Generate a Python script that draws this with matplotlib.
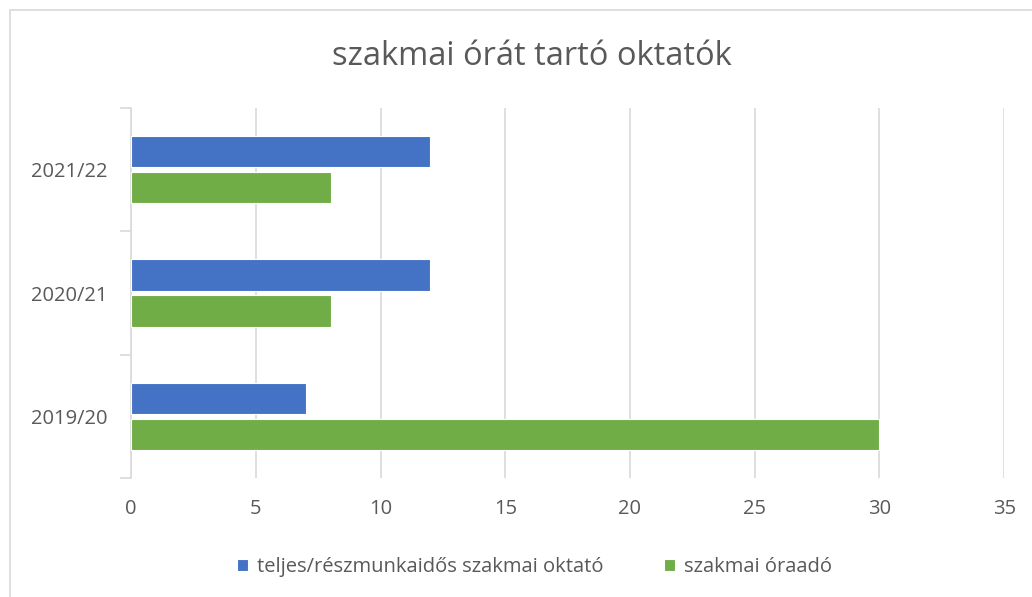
import numpy as np
import matplotlib.pyplot as plt
from matplotlib.patches import Rectangle

# data
years = ['2019/20', '2020/21', '2021/22']
oktato = [7, 12, 12]
oraado = [30, 8, 8]
xticks = [0, 5, 10, 15, 20, 25, 30, 35]

blue = '#4472C4'
green = '#70AD47'
txt = '#595959'
grid = '#D9D9D9'

plt.rcParams['font.family'] = ['Open Sans', 'DejaVu Sans']

fig = plt.figure(figsize=(10.32, 5.97), dpi=100)
ax = fig.add_axes([0.127, 0.1993, 0.846, 0.6198])

# chart border
fig.patches.append(Rectangle((10 / 1032, -0.1), 1.2, (597 - 10) / 597 + 0.1,
                             transform=fig.transFigure, fill=False,
                             edgecolor='#D9D9D9', linewidth=1.2))

y = np.arange(len(years))
h = 0.255
off = 0.146
ax.barh(y + off, oktato, height=h, color=blue, edgecolor='white', linewidth=0.8,
        label='teljes/részmunkaidős szakmai oktató', zorder=3)
ax.barh(y - off, oraado, height=h, color=green, edgecolor='white', linewidth=0.8,
        label='szakmai óraadó', zorder=3)

ax.set_xlim(0, 35)
ax.set_ylim(-0.5, 2.5)
ax.set_xticks(xticks)
ax.set_xticklabels([str(v) for v in xticks])
ax.set_yticks(y)
ax.set_yticklabels(years)
ax.tick_params(axis='x', length=0, pad=15, labelsize=14.5, labelcolor=txt)
ax.tick_params(axis='y', length=0, pad=17, labelsize=14.5, labelcolor=txt)

# category boundary ticks on left axis
ax.set_yticks([-0.5, 0.5, 1.5, 2.5], minor=True)
ax.tick_params(axis='y', which='minor', length=8, color=grid, width=1.2)

for s in ['top', 'right', 'bottom']:
    ax.spines[s].set_visible(False)
ax.spines['left'].set_color(grid)
ax.spines['left'].set_linewidth(1.2)

ax.grid(axis='x', color=grid, linewidth=1.2, zorder=0)
ax.set_axisbelow(True)

fig.text(0.515, 0.905, 'szakmai órát tartó oktatók', ha='center', va='center',
         fontsize=23.5, color=txt)

leg = ax.legend(loc='center', bbox_to_anchor=(0.518, 0.05), bbox_transform=fig.transFigure,
                ncol=2, frameon=False, fontsize=14.5, handlelength=0.55, handleheight=0.55,
                handletextpad=0.45, columnspacing=3.0, labelcolor=txt)

fig.savefig('out.png', dpi=100, facecolor='white')
